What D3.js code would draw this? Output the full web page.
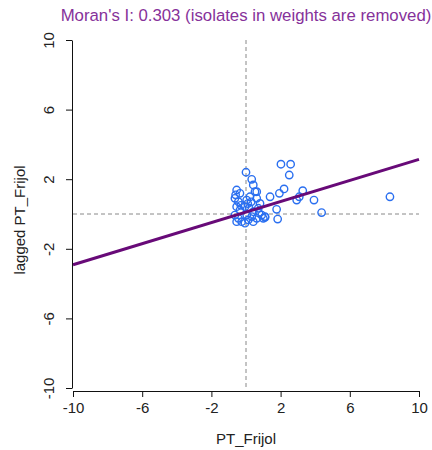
<!DOCTYPE html>
<html>
<head>
<meta charset="utf-8">
<script src="https://cdn.jsdelivr.net/npm/d3@7"></script>
<style>
    body { margin: 0; background: #fff; }
    text { font-family: "Liberation Sans", Arial, sans-serif; }
</style>
</head>
<body>
<div id="chart-area"></div>
<script>
// data
var xVals = [0.0, 2.02, 2.58, 2.5, 0.33, 0.42, 0.62, 2.2, 1.93, 1.39, 3.28, 3.08, 2.93, 3.93, 1.77, 1.83, 1.1, 4.37, 8.32,
    -0.54, -0.35, -0.64, -0.44, -0.54, -0.35, -0.64, -0.44, -0.25, -0.54, -0.6, -0.3,
    0.04, 0.23, -0.06, 0.18, 0.04, 0.33, 0.13, -0.06, 0.1,
    0.52, 0.62, 0.81, 0.71, 0.42, 0.91, 0.62, 0.42, 1.0, 1.1, 0.75, 0.3];
var yVals = [2.4, 2.86, 2.86, 2.24, 1.99, 1.67, 1.28, 1.44, 1.19, 0.99, 1.34, 0.99, 0.8, 0.8, 0.27, -0.29, -0.19, 0.08, 0.99,
    1.38, 1.19, 0.9, 0.71, 0.42, 0.23, -0.06, -0.25, -0.44, -0.44, 1.1, 0.5,
    0.8, 0.99, 0.42, 0.33, -0.06, -0.15, -0.34, -0.53, 0.6,
    1.28, 0.9, 0.61, 0.33, 0.13, -0.06, -0.25, -0.44, -0.25, -0.15, 0.05, 0.7];
var tickVals = [-10, -6, -2, 2, 6, 10];
var moransI = 0.303;
var intercept = 0.11;

var width = 432;
var height = 450;

var svg = d3.select("#chart-area").append("svg")
    .attr("width", width)
    .attr("height", height);

var x = d3.scaleLinear()
    .domain([-10, 10])
    .range([73, 419]);

var y = d3.scaleLinear()
    .domain([-10, 10])
    .range([388, 40]);

// dashed reference lines
svg.append("line")
    .attr("x1", x(-10)).attr("x2", x(10))
    .attr("y1", y(0)).attr("y2", y(0))
    .attr("stroke", "#888")
    .attr("stroke-dasharray", "4,3");

svg.append("line")
    .attr("x1", x(0)).attr("x2", x(0))
    .attr("y1", y(10)).attr("y2", y(-10))
    .attr("stroke", "#888")
    .attr("stroke-dasharray", "4,3");

// points
svg.selectAll("circle")
    .data(xVals.map((d, i) => ({ x: d, y: yVals[i] })))
    .enter()
    .append("circle")
        .attr("cx", (d) => x(d.x))
        .attr("cy", (d) => y(d.y))
        .attr("r", 3.7)
        .attr("fill", "none")
        .attr("stroke", "#2a6ff0")
        .attr("stroke-width", 1.4);

// regression line
svg.append("line")
    .attr("x1", x(-10))
    .attr("y1", y(intercept + moransI * -10))
    .attr("x2", x(10))
    .attr("y2", y(intercept + moransI * 10))
    .attr("stroke", "#680a78")
    .attr("stroke-width", 3);

// x Axis
var xAxis = svg.append("g")
    .attr("transform", "translate(0, 391)")
    .call(d3.axisBottom(x).tickValues(tickVals).tickSize(6).tickSizeOuter(0).tickPadding(5).tickFormat((d) => String(d)));

// y Axis
var yAxis = svg.append("g")
    .attr("transform", "translate(72, 0)")
    .call(d3.axisLeft(y).tickValues(tickVals).tickSize(6).tickSizeOuter(0).tickFormat((d) => String(d)));

yAxis.selectAll(".tick text")
    .attr("x", 0)
    .attr("y", 0)
    .attr("dy", "0.35em")
    .attr("text-anchor", "middle")
    .attr("transform", "translate(-23, 0) rotate(-90)");

svg.selectAll(".domain, .tick line")
    .attr("stroke", "#111");

svg.selectAll(".tick text")
    .style("font-size", "15px")
    .attr("fill", "#222");

// labels
svg.append("text")
    .attr("x", 246)
    .attr("y", 21)
    .attr("text-anchor", "middle")
    .text("Moran's I: " + moransI + " (isolates in weights are removed)")
    .style("fill", "#86319a")
    .style("font-size", "16.8px");

svg.append("text")
    .attr("x", 246)
    .attr("y", 444)
    .attr("text-anchor", "middle")
    .text("PT_Frijol")
    .style("fill", "#222")
    .style("font-size", "15px");

svg.append("text")
    .attr("transform", "translate(25, 220) rotate(-90)")
    .attr("text-anchor", "middle")
    .text("lagged PT_Frijol")
    .style("fill", "#222")
    .style("font-size", "15px");
</script>
</body>
</html>
